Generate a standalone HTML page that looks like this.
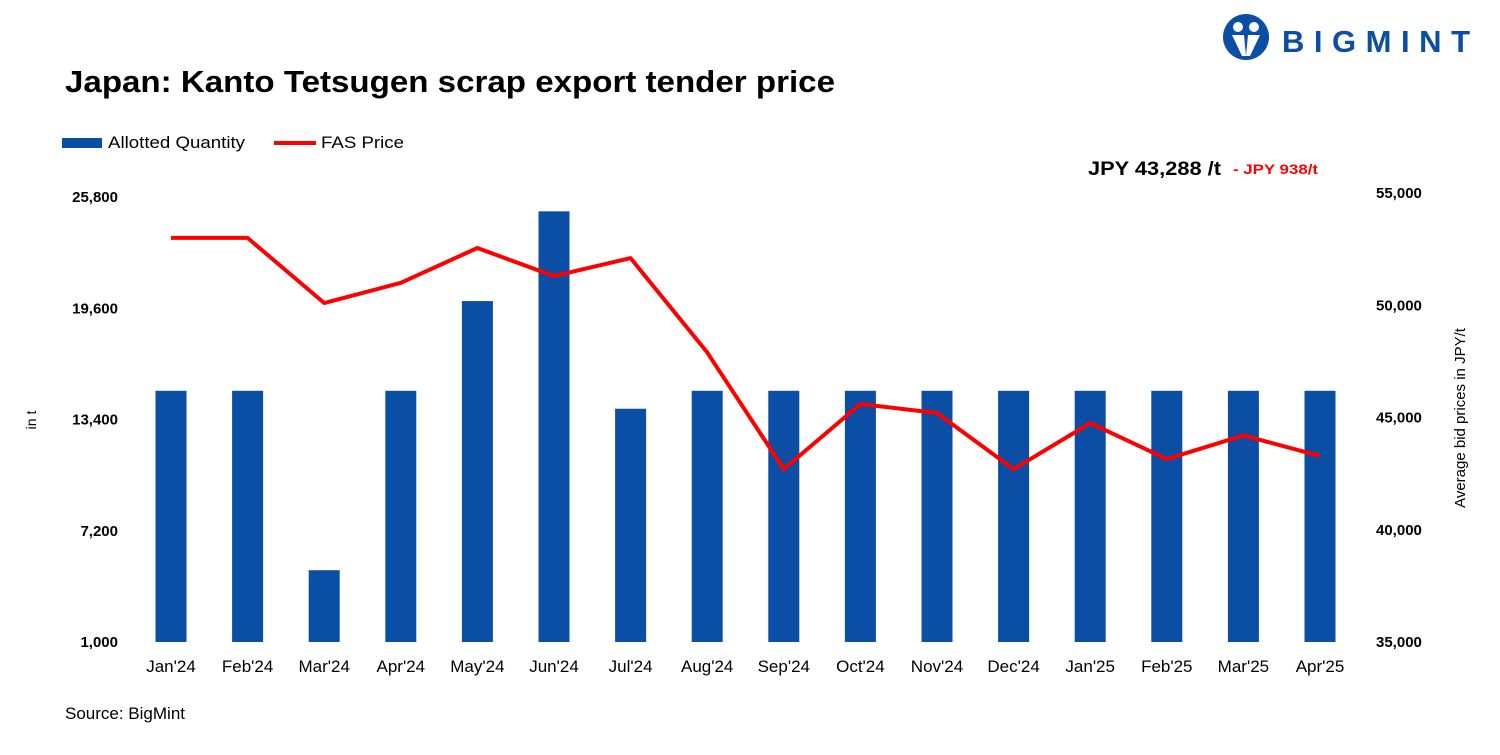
<!DOCTYPE html>
<html><head><meta charset="utf-8"><style>
body{margin:0;width:1500px;height:750px;background:#fff;overflow:hidden;font-family:"Liberation Sans",sans-serif}
svg text{font-family:"Liberation Sans",sans-serif}
</style></head><body>
<svg id="c" width="1500" height="750">
<g>
<circle cx="1246" cy="37" r="23" fill="#0a4ea6"/>
<circle cx="1238" cy="27" r="5" fill="#fff"/><circle cx="1254" cy="27" r="5" fill="#fff"/>
<path d="M1232 35 L1244 35 L1246 56 L1242 56 Z M1248 35 L1260 35 L1250 56 L1246 56 Z" fill="#fff"/>
<text x="1282" y="52" font-size="31" font-weight="bold" fill="#0a4ea6" textLength="188" lengthAdjust="spacing">BIGMINT</text>
</g>
<text x="65" y="92" font-size="31" font-weight="bold" fill="#000" textLength="770" lengthAdjust="spacingAndGlyphs">Japan: Kanto Tetsugen scrap export tender price</text>
<g>
<rect x="62" y="138" width="40" height="10" fill="#0a4ea6"/>
<text x="108" y="148" font-size="17" textLength="137" lengthAdjust="spacingAndGlyphs">Allotted Quantity</text>
<line x1="274" y1="143" x2="316" y2="143" stroke="#f00" stroke-width="4"/>
<text x="321" y="148" font-size="17" textLength="83" lengthAdjust="spacingAndGlyphs">FAS Price</text>
</g>
<text x="1088" y="175" font-size="19" font-weight="bold" textLength="133" lengthAdjust="spacingAndGlyphs">JPY 43,288 /t</text>
<text x="1233" y="174" font-size="14" font-weight="bold" fill="#f00" textLength="85" lengthAdjust="spacingAndGlyphs">- JPY 938/t</text>
<text transform="translate(36,420) rotate(-90)" font-size="14" text-anchor="middle">in t</text>
<text transform="translate(1465,418) rotate(-90)" font-size="15" text-anchor="middle">Average bid prices in JPY/t</text>
<text x="65" y="719" font-size="17">Source: BigMint</text>
<g id="g"></g>
</svg>
<script>
const categories=["Jan'24","Feb'24","Mar'24","Apr'24","May'24","Jun'24","Jul'24","Aug'24","Sep'24","Oct'24","Nov'24","Dec'24","Jan'25","Feb'25","Mar'25","Apr'25"];
const quantity=[15000,15000,5000,15000,20000,25000,14000,15000,15000,15000,15000,15000,15000,15000,15000,15000];
const price=[53000,53000,50100,51000,52550,51300,52100,47900,42700,45600,45200,42700,44750,43150,44200,43288];
const leftTicks=[1000,7200,13400,19600,25800];
const rightTicks=[35000,40000,45000,50000,55000];
const NS="http://www.w3.org/2000/svg";
const g=document.getElementById('g');
const x=i=>171+i*76.6;
const yL=v=>642-(v-1000)/24800*445;
const yR=v=>642-(v-35000)/20000*449;
function el(t,a){const e=document.createElementNS(NS,t);for(const k in a)e.setAttribute(k,a[k]);g.appendChild(e);return e;}
leftTicks.forEach(v=>{const t=el('text',{x:118,y:yL(v)+5,'font-size':15,'font-weight':'bold','text-anchor':'end'});t.textContent=v.toLocaleString('en-US');

});
rightTicks.forEach(v=>{const t=el('text',{x:1376,y:yR(v)+5,'font-size':15,'font-weight':'bold'});t.textContent=v.toLocaleString('en-US');

});
quantity.forEach((v,i)=>{const r=el('rect',{x:x(i)-15.5,y:yL(v),width:31,height:642-yL(v),fill:'#0a4ea6'});

});
categories.forEach((c,i)=>{const t=el('text',{x:x(i),y:672,'font-size':17,'text-anchor':'middle'});t.textContent=c;

});
const p=el('polyline',{points:price.map((v,i)=>x(i)+','+yR(v)).join(' '),fill:'none',stroke:'#f00','stroke-width':4,'stroke-linejoin':'round'});


</script>
</body></html>
